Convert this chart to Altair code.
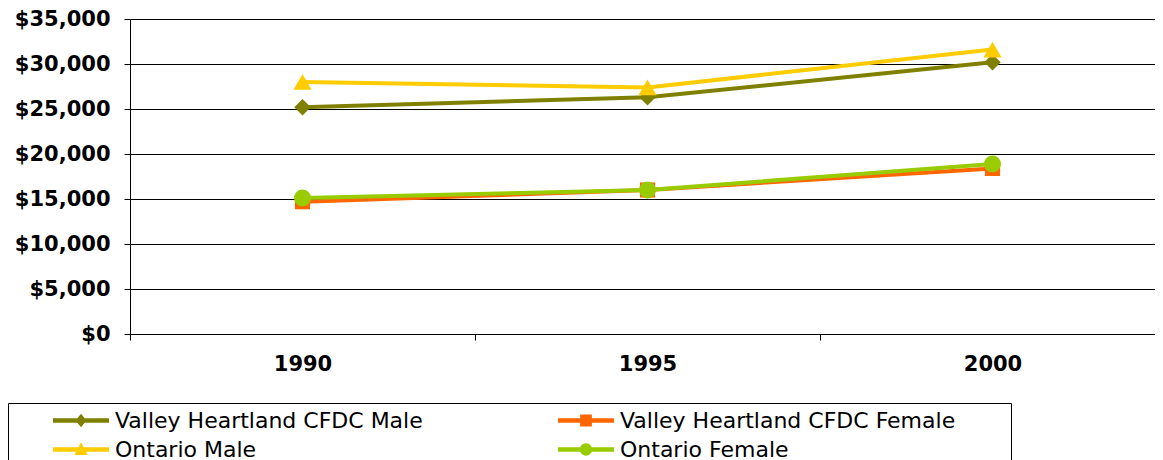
import altair as alt
import pandas as pd

years = ["1990", "1995", "2000"]
# order as the legend reads row by row (legend fills columns first)
series_names = [
    "Valley Heartland CFDC Male",
    "Ontario Male",
    "Valley Heartland CFDC Female",
    "Ontario Female",
]
vh_male = [25200, 26300, 30200]
on_male = [28000, 27400, 31600]
vh_female = [14700, 16000, 18400]
on_female = [15100, 16000, 18900]
colors = ["#808000", "#FFCC00", "#FF6600", "#99CC00"]
shapes = ["diamond", "triangle-up", "square", "circle"]
marker_sizes = [270, 330, 230, 290]
draw_order = [0, 2, 1, 3]  # VH Male, VH Female, Ontario Male, Ontario Female
y_ticks = [0, 5000, 10000, 15000, 20000, 25000, 30000, 35000]

series_values = [vh_male, on_male, vh_female, on_female]
rows = []
for name, vals in zip(series_names, series_values):
    for yr, v in zip(years, vals):
        rows.append({"year": yr, "series": name, "income": v})
df = pd.DataFrame(rows)

# legend symbols: line segment with marker in the middle (unit square -1..1)
bar = "M-1,-0.08H1V0.08H-1Z "
legend_paths = [
    bar + "M-0.2,0L0,-0.24L0.2,0L0,0.24Z",
    bar + "M-0.24,0.2L0,-0.26L0.24,0.2Z",
    bar + "M-0.21,-0.21H0.21V0.21H-0.21Z",
    bar + "M-0.22,0A0.22,0.22,0,1,1,0.22,0A0.22,0.22,0,1,1,-0.22,0Z",
]

legend = alt.Legend(
    title="\u00a0",
    titleOrient="right",
    titlePadding=51,
    titleFontSize=11,
    orient="none",
    legendX=-122,
    legendY=384,
    columns=2,
    strokeColor="black",
    fillColor="white",
    padding=5,
    symbolSize=3136,
    symbolOffset=40,
    symbolOpacity=1,
    symbolStrokeWidth=0,
    labelOffset=6,
    clipHeight=25,
    rowPadding=4,
    columnPadding=95,
    labelFont="DejaVu Sans",
    labelFontSize=22,
    labelColor="black",
    labelLimit=0,
)

x_enc = alt.X(
    "year:N",
    sort=years,
    scale=alt.Scale(paddingInner=0, paddingOuter=0, range=[0, 1035]),
    axis=alt.Axis(
        title=None,
        labelAngle=0,
        tickBand="extent",
        labelFont="DejaVu Sans",
        labelFontSize=21,
        labelFontWeight="bold",
        labelColor="black",
        labelPadding=13,
        tickSize=6,
        tickColor="black",
        domainColor="black",
        grid=False,
    ),
)
y_enc = alt.Y(
    "income:Q",
    scale=alt.Scale(domain=[0, 35000], nice=False),
    axis=alt.Axis(
        title=None,
        values=y_ticks,
        format="$,.0f",
        labelFont="DejaVu Sans",
        labelFontSize=21,
        labelFontWeight="bold",
        labelColor="black",
        labelPadding=14,
        tickSize=6,
        tickColor="black",
        domainColor="black",
        grid=True,
        gridColor="black",
        gridOpacity=1,
        gridWidth=1,
    ),
)
color_scale = alt.Scale(domain=series_names, range=colors)
shape_scale = alt.Scale(domain=series_names, range=legend_paths)

layers = []
for i in draw_order:
    name, shp, sz = series_names[i], shapes[i], marker_sizes[i]
    b = alt.Chart(df).transform_filter(alt.datum.series == name)
    layers.append(
        b.mark_line(strokeWidth=4).encode(
            x=x_enc, y=y_enc, color=alt.Color("series:N", scale=color_scale, legend=legend)
        )
    )
    layers.append(
        b.mark_point(filled=True, opacity=1, shape=shp, size=sz).encode(
            x=x_enc, y=y_enc, color=alt.Color("series:N", scale=color_scale, legend=legend)
        )
    )

# invisible layer that only carries the legend (line + marker symbols)
legend_layer = alt.Chart(df).mark_point(filled=True, opacity=0).encode(
    x=x_enc,
    y=y_enc,
    color=alt.Color("series:N", scale=color_scale, legend=legend),
    shape=alt.Shape("series:N", scale=shape_scale, legend=legend),
)
layers.append(legend_layer)

chart = (
    alt.layer(*layers)
    .properties(
        width=1025,
        height=315,
        padding={"left": 122, "top": 11, "right": 0, "bottom": 132},
        autosize=alt.AutoSizeParams(type="none"),
        background="white",
    )
    .configure_view(stroke=None)
)

chart.save("out.html", embed_options={"renderer": "svg", "actions": False})
